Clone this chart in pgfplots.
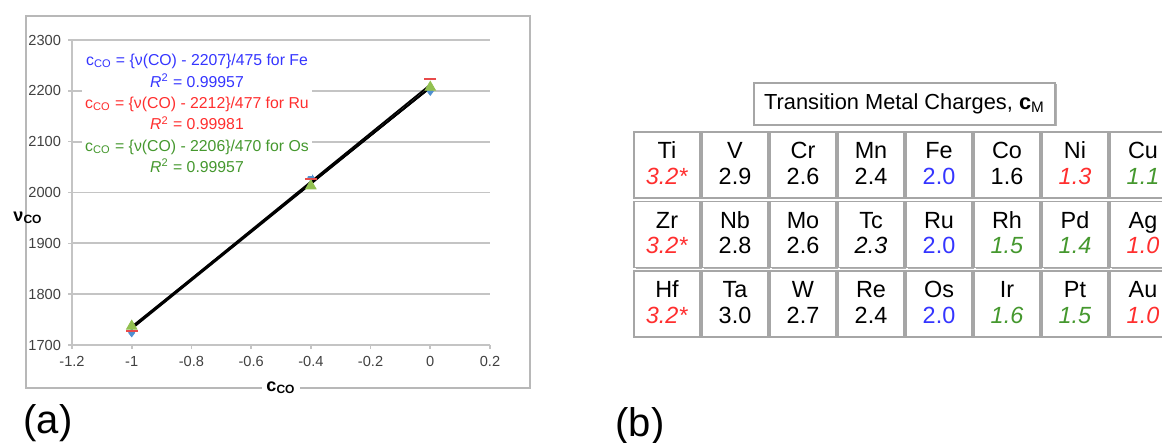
\documentclass[border=0pt]{standalone}
\usepackage{fontspec}
\setmainfont{Liberation Sans}
\usepackage{pgfplots}
\pgfplotsset{compat=1.18}
\definecolor{gridc}{HTML}{C4C4C4}
\definecolor{tickc}{HTML}{404040}
\definecolor{txblue}{HTML}{3535FF}
\definecolor{txred}{HTML}{FF2E2E}
\definecolor{txgreen}{HTML}{45982E}
\definecolor{mkblue}{HTML}{4F8FD0}
\definecolor{mkred}{HTML}{E84A4A}
\definecolor{mkgreen}{HTML}{92C050}
\newcommand\cellfont{\fontsize{11.7}{13}\selectfont}
\newcommand{\cell}[4]{%
  \pgfmathsetmacro{\L}{634+68*#1}%
  \pgfmathsetmacro{\T}{132+69.5*#2}%
  \fill[black!30] (\L+1.5,\T+1.5) rectangle ++(66,66);
  \draw[black!35,fill=white,line width=0.6pt] (\L,\T) rectangle ++(66,66);
  \node[font=\cellfont,anchor=base,inner sep=0pt] at (\L+33,\T+27) {#3};
  \node[font=\cellfont,anchor=base,inner sep=0pt] at (\L+33,\T+52.5) {#4};
}
\begin{document}
\begin{tikzpicture}
\clip (0pt,0pt) rectangle (581pt,221.5pt);
\path[use as bounding box] (0pt,0pt) rectangle (581pt,221.5pt);
\begin{scope}[x=0.5pt,y=-0.5pt,shift={(0pt,221.5pt)}]
  \draw[black!28,line width=0.6pt] (26,16) rectangle (530,388);
\end{scope}
\begin{axis}[
  at={(36pt,49pt)}, anchor=south west, scale only axis,
  width=209pt, height=152.5pt,
  xmin=-1.2, xmax=0.2, ymin=1700, ymax=2300,
  axis x line=bottom, axis y line=left,
  axis line style={draw=gridc, line width=0.8pt, -},
  xtick={-1.2,-1,-0.8,-0.6,-0.4,-0.2,0,0.2},
  xticklabels={-1.2,-1,-0.8,-0.6,-0.4,-0.2,0,0.2},
  ytick={1700,1800,1900,2000,2100,2200,2300},
  yticklabels={1700,1800,1900,2000,2100,2200,2300},
  ymajorgrids, grid style={draw=gridc, line width=0.9pt},
  tick style={draw=gridc, line width=0.8pt},
  tick align=outside, major tick length=2pt,
  ticklabel style={font=\fontsize{7.3}{8}\selectfont, text=tickc},
  clip=false,
]
\addplot[only marks, mark=diamond*, mark size=2pt, color=mkblue] coordinates {(-1,1724) (-0.4,2030) (0,2199)};
\addplot[only marks, mark=-, mark size=3pt, mark options={line width=1.1pt}, color=mkred] coordinates {(-1,1727) (-0.4,2026) (0,2223)};
\addplot[only marks, mark=triangle*, mark size=3pt, color=mkgreen] coordinates {(-1,1737) (-0.4,2013) (0,2207)};
\addplot[black, line width=0.9pt] coordinates {(-1,1732) (0,2207)};
\addplot[black, line width=0.9pt] coordinates {(-1,1735) (0,2212)};
\addplot[black, line width=0.9pt] coordinates {(-1,1736) (0,2206)};
\end{axis}
\begin{scope}[x=0.5pt,y=-0.5pt,shift={(0pt,221.5pt)}]
  \node[fill=white,inner sep=1.5pt,align=center,font=\fontsize{7.9}{10.7}\selectfont] at (197,113.5) {%
    \textcolor{txblue}{c\textsubscript{CO} = \{ν(CO) - 2207\}/475 for Fe}\\
    \textcolor{txblue}{\textit{R}\textsuperscript{2} = 0.99957}\\
    \textcolor{txred}{c\textsubscript{CO} = \{ν(CO) - 2212\}/477 for Ru}\\
    \textcolor{txred}{\textit{R}\textsuperscript{2} = 0.99981}\\
    \textcolor{txgreen}{c\textsubscript{CO} = \{ν(CO) - 2206\}/470 for Os}\\
    \textcolor{txgreen}{\textit{R}\textsuperscript{2} = 0.99957}};
  \node[font=\fontsize{9}{10}\selectfont\bfseries,inner sep=1pt] at (28,218) {ν\textsubscript{CO}};
  \node[font=\fontsize{9}{10}\selectfont\bfseries,fill=white,inner sep=2pt] at (281,388) {c\textsubscript{CO}};
  \node[font=\fontsize{20}{24}\selectfont] at (48,423) {(a)};
  \node[font=\fontsize{20}{24}\selectfont] at (640,426) {(b)};
  % title box
  \fill[black!30] (755.5,84.5) rectangle (1056.5,126.5);
  \draw[black!35,fill=white,line width=0.6pt] (754,83) rectangle (1055,125);
  \node[font=\fontsize{10.9}{12}\selectfont] at (904.5,104) {Transition Metal Charges, \textbf{c}\textsubscript{M}};
  % cells
  \cell{0}{0}{Ti}{\textcolor{txred}{\textit{3.2*}}}
  \cell{1}{0}{V}{2.9}
  \cell{2}{0}{Cr}{2.6}
  \cell{3}{0}{Mn}{2.4}
  \cell{4}{0}{Fe}{\textcolor{txblue}{2.0}}
  \cell{5}{0}{Co}{1.6}
  \cell{6}{0}{Ni}{\textcolor{txred}{\textit{1.3}}}
  \cell{7}{0}{Cu}{\textcolor{txgreen}{\textit{1.1}}}
  \cell{0}{1}{Zr}{\textcolor{txred}{\textit{3.2*}}}
  \cell{1}{1}{Nb}{2.8}
  \cell{2}{1}{Mo}{2.6}
  \cell{3}{1}{Tc}{\textit{2.3}}
  \cell{4}{1}{Ru}{\textcolor{txblue}{2.0}}
  \cell{5}{1}{Rh}{\textcolor{txgreen}{\textit{1.5}}}
  \cell{6}{1}{Pd}{\textcolor{txgreen}{\textit{1.4}}}
  \cell{7}{1}{Ag}{\textcolor{txred}{\textit{1.0}}}
  \cell{0}{2}{Hf}{\textcolor{txred}{\textit{3.2*}}}
  \cell{1}{2}{Ta}{3.0}
  \cell{2}{2}{W}{2.7}
  \cell{3}{2}{Re}{2.4}
  \cell{4}{2}{Os}{\textcolor{txblue}{2.0}}
  \cell{5}{2}{Ir}{\textcolor{txgreen}{\textit{1.6}}}
  \cell{6}{2}{Pt}{\textcolor{txgreen}{\textit{1.5}}}
  \cell{7}{2}{Au}{\textcolor{txred}{\textit{1.0}}}
\end{scope}
\end{tikzpicture}
\end{document}
